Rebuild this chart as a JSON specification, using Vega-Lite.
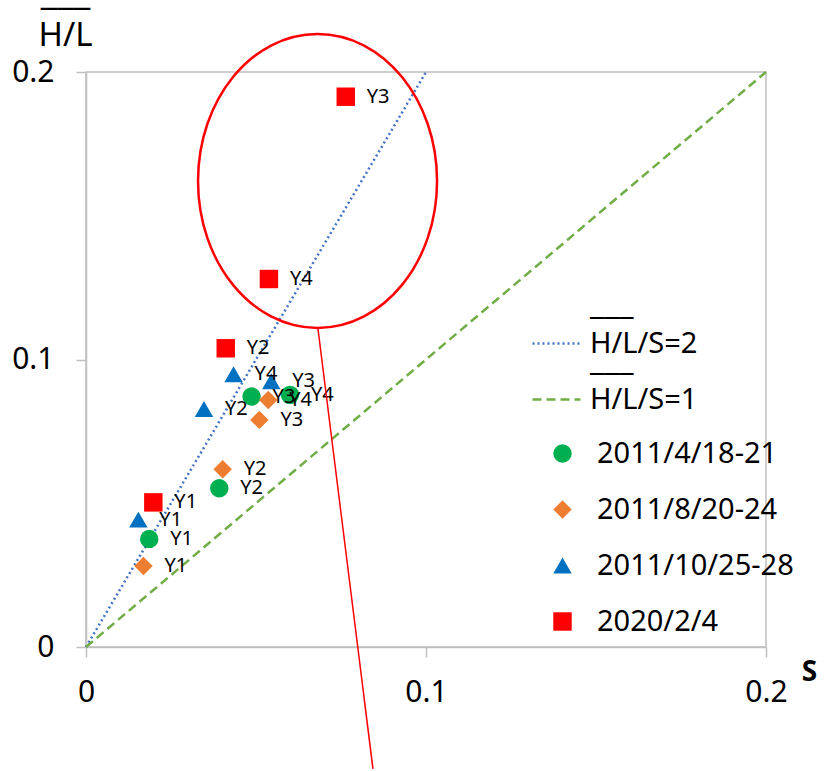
{
  "$schema": "https://vega.github.io/schema/vega-lite/v6.json",
  "width": 680,
  "height": 575,
  "autosize": {"type": "none"},
  "padding": {"left": 86, "top": 72, "right": 61, "bottom": 124},
  "background": "white",
  "config": {
    "font": "Noto Sans",
    "view": {"stroke": "#BFBFBF", "strokeWidth": 1.5},
    "axis": {
      "grid": false,
      "domainColor": "#BFBFBF",
      "domainWidth": 1.5,
      "tickColor": "#BFBFBF",
      "tickWidth": 1.5,
      "tickSize": 10,
      "labelFlush": false,
      "labelFont": "Noto Sans",
      "labelFontSize": 30,
      "labelColor": "#000000",
      "titleFont": "Noto Sans",
      "titleColor": "#000000"
    },
    "legend": {
      "labelFont": "Noto Sans",
      "labelFontSize": 29,
      "labelColor": "#000000",
      "labelLimit": 400,
      "padding": 0
    }
  },
  "datasets": {
    "pts": [
      {"series": "2011/4/18-21", "label": "Y1", "x": 0.0186, "y": 0.0376},
      {"series": "2011/4/18-21", "label": "Y2", "x": 0.0392, "y": 0.0552},
      {"series": "2011/4/18-21", "label": "Y3", "x": 0.0487, "y": 0.0871},
      {"series": "2011/4/18-21", "label": "Y4", "x": 0.0600, "y": 0.0877},
      {"series": "2011/8/20-24", "label": "Y1", "x": 0.0169, "y": 0.0282},
      {"series": "2011/8/20-24", "label": "Y2", "x": 0.0402, "y": 0.0618},
      {"series": "2011/8/20-24", "label": "Y3", "x": 0.0510, "y": 0.0790},
      {"series": "2011/8/20-24", "label": "Y4", "x": 0.0536, "y": 0.0859},
      {"series": "2011/10/25-28", "label": "Y1", "x": 0.0154, "y": 0.0443},
      {"series": "2011/10/25-28", "label": "Y2", "x": 0.0347, "y": 0.0828},
      {"series": "2011/10/25-28", "label": "Y3", "x": 0.0545, "y": 0.0924},
      {"series": "2011/10/25-28", "label": "Y4", "x": 0.0434, "y": 0.0949},
      {"series": "2020/2/4", "label": "Y1", "x": 0.0198, "y": 0.0503},
      {"series": "2020/2/4", "label": "Y2", "x": 0.0411, "y": 0.1039},
      {"series": "2020/2/4", "label": "Y3", "x": 0.0764, "y": 0.1914},
      {"series": "2020/2/4", "label": "Y4", "x": 0.0538, "y": 0.1280}
    ],
    "refl": [
      {"line": "H/L/S=2", "x": 0, "y": 0},
      {"line": "H/L/S=2", "x": 0.1, "y": 0.2},
      {"line": "H/L/S=1", "x": 0, "y": 0},
      {"line": "H/L/S=1", "x": 0.2, "y": 0.2}
    ],
    "ellipse": [{"x": 0.0681, "y": 0.1621}],
    "pointer": [{"x": 0.0682, "y": 0.1110, "x2": 0.0844, "y2": -0.0424}]
  },
  "encoding": {
    "x": {
      "field": "x", "type": "quantitative",
      "scale": {"domain": [0, 0.2], "nice": false, "zero": false},
      "axis": {
        "values": [0, 0.1, 0.2], "format": "~g",
        "labelPadding": 20,
        "title": "S", "titleFontSize": 28, "titleFontWeight": "bold",
        "titleX": 723, "titleY": 33, "titleAlign": "center", "titleBaseline": "alphabetic"
      }
    },
    "y": {
      "field": "y", "type": "quantitative",
      "scale": {"domain": [0, 0.2], "nice": false, "zero": false},
      "axis": {
        "values": [0, 0.1, 0.2], "format": "~g",
        "labelPadding": 22,
        "title": ["\u203E\u203E\u203E", "H/L"], "titleFontSize": 33, "titleFontWeight": "normal",
        "titleLineHeight": 11,
        "titleAngle": 0, "titleX": -21, "titleY": -38,
        "titleAlign": "center", "titleBaseline": "alphabetic"
      }
    }
  },
  "layer": [
    {
      "data": {"name": "refl"},
      "mark": {"type": "line", "strokeWidth": 2.5, "strokeCap": "butt"},
      "encoding": {
        "color": {
          "field": "line", "type": "nominal",
          "scale": {"domain": ["H/L/S=2", "H/L/S=1"], "range": ["#4472C4", "#70AD47"]},
          "legend": {
            "title": null, "orient": "none", "legendX": 445, "legendY": 246,
            "symbolType": "stroke", "symbolSize": 2304, "symbolStrokeWidth": 2.5,
            "labelExpr": "['\u203E\u203E\u203E', datum.label]",
            "labelBaseline": "alphabetic",
            "labelOffset": 8, "rowPadding": 14,
            "encode": {"labels": {"update": {"lineHeight": {"value": 12}, "dy": {"value": -3}}}}
          }
        },
        "strokeDash": {
          "field": "line", "type": "nominal",
          "scale": {"domain": ["H/L/S=2", "H/L/S=1"], "range": [[2, 3], [9, 5]]},
          "legend": {
            "title": null, "orient": "none", "legendX": 445, "legendY": 246,
            "symbolType": "stroke", "symbolSize": 2304, "symbolStrokeWidth": 2.5,
            "labelExpr": "['\u203E\u203E\u203E', datum.label]",
            "labelBaseline": "alphabetic",
            "labelOffset": 8, "rowPadding": 14,
            "encode": {"labels": {"update": {"lineHeight": {"value": 12}, "dy": {"value": -3}}}}
          }
        }
      }
    },
    {
      "data": {"name": "pts"},
      "mark": {"type": "point", "filled": true, "opacity": 1, "size": 340},
      "encoding": {
        "color": {
          "field": "series", "type": "nominal",
          "scale": {"domain": ["2011/4/18-21", "2011/8/20-24", "2011/10/25-28", "2020/2/4"], "range": ["#00B050", "#ED7D31", "#0070C0", "#FF0000"]},
          "legend": {
            "title": null, "orient": "none", "legendX": 462, "legendY": 367,
            "symbolSize": 340, "symbolOpacity": 1, "labelOffset": 20, "rowPadding": 26
          }
        },
        "shape": {
          "field": "series", "type": "nominal",
          "scale": {"domain": ["2011/4/18-21", "2011/8/20-24", "2011/10/25-28", "2020/2/4"], "range": ["circle", "diamond", "triangle-up", "square"]},
          "legend": {
            "title": null, "orient": "none", "legendX": 462, "legendY": 367,
            "symbolSize": 340, "symbolOpacity": 1, "labelOffset": 20, "rowPadding": 26
          }
        }
      }
    },
    {
      "data": {"name": "pts"},
      "mark": {"type": "text", "align": "left", "baseline": "middle", "dx": 21, "fontSize": 20, "font": "Noto Sans", "color": "#000000"},
      "encoding": {"text": {"field": "label", "type": "nominal"}}
    },
    {
      "data": {"name": "ellipse"},
      "mark": {
        "type": "point",
        "shape": "M0.813,0C0.813,0.552,0.449,1,0,1C-0.449,1,-0.813,0.552,-0.813,0C-0.813,-0.552,-0.449,-1,0,-1C0.449,-1,0.813,-0.552,0.813,0Z",
        "size": 86436, "filled": false, "fill": null, "stroke": "#FF0000", "strokeWidth": 2.5, "opacity": 1
      },
      "encoding": {}
    },
    {
      "data": {"name": "pointer"},
      "mark": {"type": "rule", "color": "#FF0000", "strokeWidth": 1.5},
      "encoding": {
        "x2": {"field": "x2"},
        "y2": {"field": "y2"}
      }
    }
  ],
  "resolve": {"scale": {"color": "independent", "strokeDash": "independent", "shape": "independent"}}
}
